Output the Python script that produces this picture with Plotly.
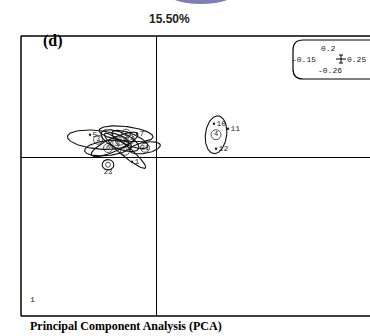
import numpy as np
import plotly.graph_objects as go

# axis limits shown in the small legend box
x_lim = [-0.15, 0.25]
y_lim = [-0.26, 0.2]

# groups: centroid, spread (sd) and correlation for each class ellipse
grp_labels = ["3", "2", "6", "8", "9", "21", "13", "14", "23", "4"]
grp_x = [-0.0644, -0.0333, -0.0533, -0.040, -0.0344, -0.0122, -0.046, -0.029,
         -0.0533, 0.0667]
grp_y = [0.0296, 0.0394, 0.016, 0.028, 0.0115, 0.0164, 0.022, 0.030,
         -0.0115, 0.0378]
grp_sdx = [0.034, 0.030, 0.026, 0.021, 0.023, 0.017, 0.026, 0.020, 0.0065, 0.012]
grp_sdy = [0.016, 0.013, 0.013, 0.018, 0.029, 0.010, 0.020, 0.015, 0.0085, 0.031]
grp_rho = [-0.3, -0.4, 0.3, -0.6, -0.93, 0.4, 0.8, -0.7, 0.0, 0.15]

# individual labelled points
pt_labels = ["5", "7", "1", "10", "11", "12"]
pt_x = [-0.0733, -0.0211, -0.0267, 0.0644, 0.080, 0.0667]
pt_y = [0.0378, 0.0394, -0.0066, 0.0559, 0.0476, 0.0148]

W, H = 370, 336
L, R, T, B = 21, 0, 36, 20
pw, ph = W - L - R, H - T - B
frame_w = 360  # the frame runs past the right edge of the page
x_hi = x_lim[0] + (pw / frame_w) * (x_lim[1] - x_lim[0])


def px(x):
    return (x - L) / pw


def py(y):
    return (H - B - y) / ph


fig = go.Figure()

t = np.linspace(0, 2 * np.pi, 120)
for cx, cy, sx, sy, r in zip(grp_x, grp_y, grp_sdx, grp_sdy, grp_rho):
    ex = cx + sx * np.cos(t)
    ey = cy + sy * (r * np.cos(t) + np.sqrt(1 - r * r) * np.sin(t))
    fig.add_trace(go.Scatter(x=ex, y=ey, mode="lines",
                             line=dict(color="#111", width=1.1),
                             hoverinfo="skip", showlegend=False))

# label boxes at the centroids
n = len(grp_labels)
fig.add_trace(go.Scatter(
    x=grp_x, y=grp_y, mode="markers+text", text=grp_labels,
    textposition=["middle center"] * (n - 2) + ["bottom center", "middle center"],
    marker=dict(symbol="circle-open", size=[9] * (n - 2) + [5, 10], color="#111",
                line=dict(width=1)),
    textfont=dict(family="Liberation Mono", size=7, color="#222"),
    showlegend=False))

fig.add_trace(go.Scatter(
    x=pt_x, y=pt_y, mode="markers+text", text=pt_labels,
    textposition="middle right",
    marker=dict(size=2.5, color="#222"),
    textfont=dict(family="Liberation Mono", size=8, color="#222"),
    showlegend=False))

shapes = [
    # frame (left, top, bottom)
    dict(type="line", xref="paper", yref="paper", x0=0, x1=0, y0=0, y1=1,
         line=dict(color="black", width=1.5)),
    dict(type="line", xref="paper", yref="paper", x0=0, x1=1.05, y0=1, y1=1,
         line=dict(color="black", width=1.5)),
    dict(type="line", xref="paper", yref="paper", x0=0, x1=1.05, y0=0, y1=0,
         line=dict(color="black", width=1.5)),
    # purple shape peeking at the top
    dict(type="circle", xref="paper", yref="paper",
         x0=px(163), x1=px(239), y0=py(4), y1=py(-25),
         fillcolor="#7e80b4", line=dict(width=0)),
]

# rounded legend box
bx0, bx1, by0, by1, rr = 293, 385, 40, 79, 10
path = (f"M {px(bx0 + rr)},{py(by0)} L {px(bx1 - rr)},{py(by0)} "
        f"Q {px(bx1)},{py(by0)} {px(bx1)},{py(by0 + rr)} "
        f"L {px(bx1)},{py(by1 - rr)} Q {px(bx1)},{py(by1)} {px(bx1 - rr)},{py(by1)} "
        f"L {px(bx0 + rr)},{py(by1)} Q {px(bx0)},{py(by1)} {px(bx0)},{py(by1 - rr)} "
        f"L {px(bx0)},{py(by0 + rr)} Q {px(bx0)},{py(by0)} {px(bx0 + rr)},{py(by0)} Z")
shapes.append(dict(type="path", xref="paper", yref="paper", path=path,
                   line=dict(color="black", width=1.2), fillcolor="white"))
# little cross in the legend
for (a, b, c, d) in [(336, 59, 346, 59), (341, 55, 341, 63),
                     (339, 55, 343, 55), (339, 63, 343, 63)]:
    shapes.append(dict(type="line", xref="paper", yref="paper",
                       x0=px(a), x1=px(c), y0=py(b), y1=py(d),
                       line=dict(color="black", width=1)))

mono = dict(family="Liberation Mono", size=8, color="#222")
annotations = [
    dict(text=f"{y_lim[1]:g}", x=px(328), y=py(49)),
    dict(text=f"{x_lim[0]:g}", x=px(304), y=py(59)),
    dict(text=f"{x_lim[1]:g}", x=px(356), y=py(59)),
    dict(text=f"{y_lim[0]:g}", x=px(330), y=py(70)),
    dict(text="1", x=px(32), y=py(299)),
]
for a in annotations:
    a.update(xref="paper", yref="paper", showarrow=False, font=mono,
             xanchor="center", yanchor="middle")
annotations += [
    dict(text="<b>15.50%</b>", x=px(169), y=py(19), xref="paper", yref="paper",
         showarrow=False, xanchor="center", yanchor="middle",
         font=dict(family="Liberation Sans", size=12, color="#222")),
    dict(text="<b>(d)</b>", x=px(53), y=py(41), xref="paper", yref="paper",
         showarrow=False, xanchor="center", yanchor="middle",
         font=dict(family="Liberation Serif", size=16, color="black")),
    dict(text="<b>Principal Component Analysis (PCA)</b>", x=px(28), y=py(326),
         xref="paper", yref="paper", showarrow=False, xanchor="left",
         yanchor="middle",
         font=dict(family="Liberation Serif", size=12, color="black")),
]

fig.update_layout(
    width=W, height=H,
    margin=dict(l=L, r=R, t=T, b=B),
    paper_bgcolor="white", plot_bgcolor="white",
    xaxis=dict(range=[x_lim[0], x_hi], showgrid=False, showticklabels=False,
               zeroline=True, zerolinecolor="black", zerolinewidth=1.3,
               showline=False, ticks=""),
    yaxis=dict(range=y_lim, showgrid=False, showticklabels=False,
               zeroline=True, zerolinecolor="black", zerolinewidth=1.3,
               showline=False, ticks=""),
    shapes=shapes,
    annotations=annotations,
    showlegend=False,
)

fig.write_html("out.html", config={"displayModeBar": False},
               post_script="document.body.style.margin='0';")
